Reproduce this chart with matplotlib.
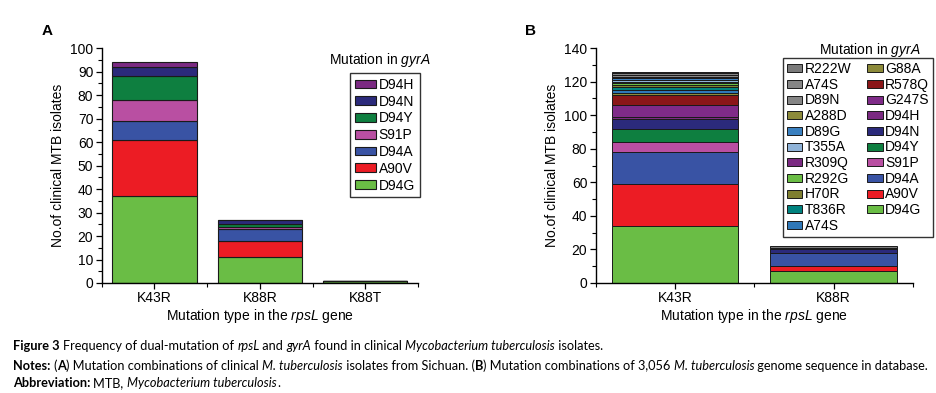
import matplotlib
matplotlib.use("Agg")
import matplotlib.pyplot as plt
from matplotlib.ticker import MultipleLocator, FixedLocator
from matplotlib.font_manager import FontProperties, findfont
from matplotlib.ft2font import FT2Font
import numpy as np

plt.rcParams['font.family'] = ['Liberation Sans', 'DejaVu Sans']
plt.rcParams['mathtext.fontset'] = 'custom'
plt.rcParams['mathtext.rm'] = 'Liberation Sans'
plt.rcParams['mathtext.it'] = 'Liberation Sans:italic'
plt.rcParams['mathtext.bf'] = 'Liberation Sans:bold'

W, H = 937, 393

# ---------------- data ----------------
a_categories = ['K43R', 'K88R', 'K88T']
a_series = ['D94G', 'A90V', 'D94A', 'S91P', 'D94Y', 'D94N', 'D94H']
a_D94G = [37, 11, 1]
a_A90V = [24, 7, 0]
a_D94A = [8, 5, 0]
a_S91P = [9, 1, 0]
a_D94Y = [10, 1, 0]
a_D94N = [4, 2, 0]
a_D94H = [2, 0, 0]
a_values = [a_D94G, a_A90V, a_D94A, a_S91P, a_D94Y, a_D94N, a_D94H]

b_categories = ['K43R', 'K88R']
b_series = ['D94G', 'A90V', 'D94A', 'S91P', 'D94Y', 'D94N', 'D94H', 'G247S',
            'R578Q', 'G88A', 'A74S', 'T836R', 'H70R', 'R292G', 'R309Q',
            'T355A', 'D89G', 'A288D', 'D89N', 'A74S', 'R222W']
b_values = [
    [34, 7],   # D94G
    [25, 3],   # A90V
    [19, 8],   # D94A
    [6, 0],    # S91P
    [8, 0],    # D94Y
    [6, 2],    # D94N
    [1, 0],    # D94H
    [7, 0],    # G247S
    [6, 0],    # R578Q
    [1, 0],    # G88A
    [2, 0],    # A74S
    [2, 0],    # T836R
    [1, 0],    # H70R
    [1, 0],    # R292G
    [1, 0],    # R309Q
    [1, 0],    # T355A
    [1, 0],    # D89G
    [1, 0],    # A288D
    [1, 0],    # D89N
    [1, 1],    # A74S
    [1, 1],    # R222W
]

colors = {
    'D94G': '#6abd45', 'A90V': '#ec1c24', 'D94A': '#3953a4', 'S91P': '#b94fa2',
    'D94Y': '#0e7f40', 'D94N': '#2b2a7b', 'D94H': '#7b2a82', 'G247S': '#7f2b88',
    'R578Q': '#8a1618', 'G88A': '#8c8a3a', 'A74S_b': '#2f78b8', 'T836R': '#00827f',
    'H70R': '#7f7f30', 'R292G': '#6abd45', 'R309Q': '#7b2a82', 'T355A': '#8fb3d8',
    'D89G': '#3a80c0', 'A288D': '#8c8a3a', 'D89N': '#858585', 'A74S_g': '#858585',
    'R222W': '#7a7a7a',
}
b_color_keys = ['D94G', 'A90V', 'D94A', 'S91P', 'D94Y', 'D94N', 'D94H', 'G247S',
                'R578Q', 'G88A', 'A74S_b', 'T836R', 'H70R', 'R292G', 'R309Q',
                'T355A', 'D89G', 'A288D', 'D89N', 'A74S_g', 'R222W']

fig = plt.figure(figsize=(W / 100, H / 100), dpi=100)
fs = 10


def ax_rect(l, r, b, t):
    return [l / W, 1 - b / H, (r - l) / W, (b - t) / H]


def style_axis(ax, ncat, ymax, major, minor):
    for s in ['top', 'right']:
        ax.spines[s].set_visible(False)
    for s in ['left', 'bottom']:
        ax.spines[s].set_linewidth(1.0)
    ax.set_xlim(-0.5, ncat - 0.5)
    ax.set_ylim(0, ymax)
    ax.yaxis.set_major_locator(MultipleLocator(major))
    ax.yaxis.set_minor_locator(MultipleLocator(minor))
    ax.xaxis.set_minor_locator(FixedLocator(np.arange(-0.5, ncat, 1.0)))
    ax.tick_params(axis='both', which='major', direction='out', length=4,
                   width=0.9, labelsize=fs, pad=2)
    ax.tick_params(axis='both', which='minor', direction='out', length=3,
                   width=0.8)
    ax.set_ylabel('No.of clinical MTB isolates', fontsize=fs, labelpad=4)
    ax.set_xlabel('Mutation type in the $\\mathit{rpsL}$ gene', fontsize=fs,
                  labelpad=1)


# ---------------- panel A ----------------
axA = fig.add_axes(ax_rect(101.7, 418, 283, 48))
x = np.arange(len(a_categories))
bottom = np.zeros(len(a_categories))
handlesA = []
for name, vals in zip(a_series, a_values):
    h = axA.bar(x, vals, 0.8, bottom=bottom, color=colors[name],
                edgecolor='#1a1a1a', linewidth=0.8, label=name)
    handlesA.append(h)
    bottom += np.array(vals)
axA.set_xticks(x)
axA.set_xticklabels(a_categories)
style_axis(axA, len(a_categories), 100, 10, 5)

legA = fig.legend(handlesA[::-1], a_series[::-1], loc='upper left',
                  bbox_to_anchor=(350 / W, 1 - 73 / H), fontsize=fs,
                  frameon=True, fancybox=False, edgecolor='black',
                  handlelength=1.5, handleheight=0.6, handletextpad=0.2,
                  labelspacing=0.2, borderpad=0.35, borderaxespad=0)
legA.get_frame().set_linewidth(1.0)
fig.text(380 / W, 1 - 60 / H, 'Mutation in $\\mathit{gyrA}$', fontsize=fs,
         ha='center', va='center')

# ---------------- panel B ----------------
axB = fig.add_axes(ax_rect(595.7, 913, 283, 48))
xb = np.arange(len(b_categories))
bottom = np.zeros(len(b_categories))
handlesB = []
for name, ck, vals in zip(b_series, b_color_keys, b_values):
    h = axB.bar(xb, vals, 0.8, bottom=bottom, color=colors[ck],
                edgecolor='#1a1a1a', linewidth=0.7, label=name)
    handlesB.append(h)
    bottom += np.array(vals)
axB.set_xticks(xb)
axB.set_xticklabels(b_categories)
style_axis(axB, len(b_categories), 140, 20, 10)

legB = fig.legend(handlesB[::-1], b_series[::-1], loc='upper left', ncol=2,
                  bbox_to_anchor=(783 / W, 1 - 58 / H), fontsize=fs,
                  frameon=True, fancybox=False, edgecolor='black',
                  handlelength=1.1, handleheight=0.5, handletextpad=0.2,
                  labelspacing=0.12, borderpad=0.3, borderaxespad=0,
                  columnspacing=1.1)
legB.get_frame().set_linewidth(1.0)
fig.text(870 / W, 1 - 50 / H, 'Mutation in $\\mathit{gyrA}$', fontsize=fs,
         ha='center', va='center')

# panel letters
fig.text(47 / W, 1 - 31 / H, 'A', fontsize=11, weight='bold', ha='center', va='center')
fig.text(531 / W, 1 - 31 / H, 'B', fontsize=11, weight='bold', ha='center', va='center')

# ---------------- caption ----------------
cap_family = 'Lato'
cap_size = 9.2
_font_cache = {}


def advance(txt, weight, style):
    key = (weight, style)
    if key not in _font_cache:
        path = findfont(FontProperties(family=cap_family, weight=weight, style=style))
        f = FT2Font(path)
        f.set_size(cap_size, 100)
        _font_cache[key] = f
    f = _font_cache[key]
    total = 0.0
    for ch in txt:
        g = f.load_char(ord(ch))
        total += g.linearHoriAdvance / 65536.0
    return total


def rich_line(x_px, y_px, parts):
    xp = x_px
    for txt, weight, style in parts:
        fig.text(xp / W, 1 - y_px / H, txt, fontsize=cap_size,
                 family=cap_family, weight=weight, style=style,
                 ha='left', va='baseline')
        xp += advance(txt, weight, style)


N, B, I = 'normal', 'bold', 'italic'
rich_line(13, 350, [
    ('Figure 3 ', B, N),
    ('Frequency of dual-mutation of ', N, N),
    ('rpsL', N, I),
    (' and ', N, N),
    ('gyrA', N, I),
    (' found in clinical ', N, N),
    ('Mycobacterium tuberculosis', N, I),
    (' isolates.', N, N),
])
rich_line(13, 370, [
    ('Notes: ', B, N),
    ('(', N, N), ('A', B, N),
    (') Mutation combinations of clinical ', N, N),
    ('M. tuberculosis', N, I),
    (' isolates from Sichuan. (', N, N), ('B', B, N),
    (') Mutation combinations of 3,056 ', N, N),
    ('M. tuberculosis', N, I),
    (' genome sequence in database.', N, N),
])
rich_line(13, 387, [
    ('Abbreviation: ', B, N),
    ('MTB, ', N, N),
    ('Mycobacterium tuberculosis', N, I),
    ('.', N, N),
])

fig.savefig('out.png', dpi=100)
